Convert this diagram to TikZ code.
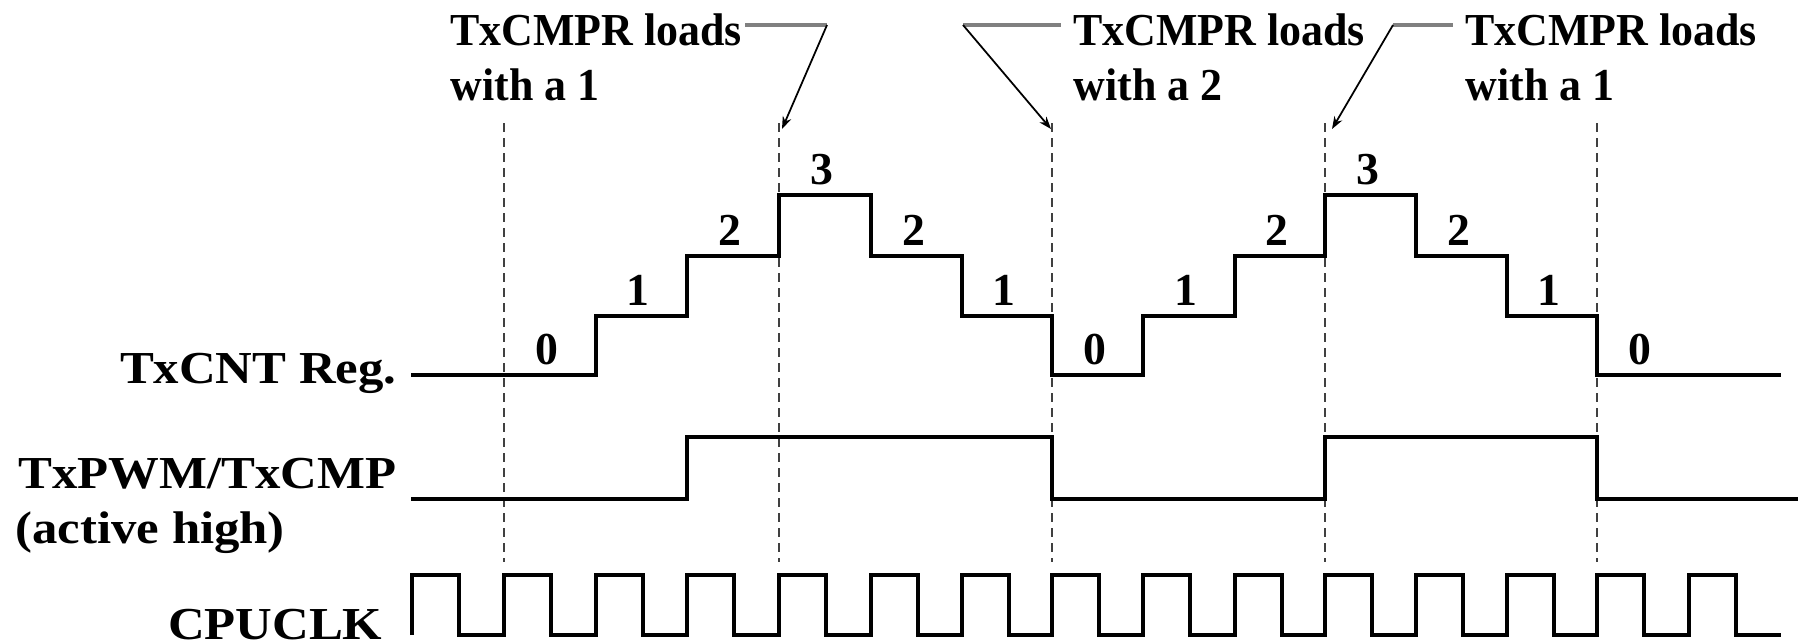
\documentclass[tikz,border=0pt]{standalone}
\usepackage{fontspec}
\setmainfont{Liberation Serif}
\newfontfamily\notefont[FakeStretch=0.96]{Liberation Serif}
\newfontfamily\sigfont[FakeStretch=1.11]{Liberation Serif}
\usetikzlibrary{arrows.meta}

\begin{document}
\begin{tikzpicture}[x=0.4pt,y=-0.4pt,
  sig/.style={line width=1.6pt, line join=miter},
  clk/.style={line width=1.4pt, line join=miter},
  guide/.style={line width=0.8pt, black!75, dash pattern=on 3.6pt off 2.4pt},
  note/.style={font=\notefont\bfseries\fontsize{18.3}{22}\selectfont, align=left, inner sep=0pt},
  siglabel/.style={font=\sigfont\bfseries\fontsize{18.3}{22}\selectfont, inner sep=0pt},
  count/.style={font=\bfseries\fontsize{18.3}{22}\selectfont, inner sep=0pt, anchor=base},
  leader/.style={line width=1.3pt, black!50},
  pointer/.style={line width=0.7pt, -{Stealth[length=5pt,width=3.6pt]}},
]
\useasboundingbox (0,0) rectangle (1810,642);

% signal names
\node[siglabel, anchor=base east] (cntlbl) at (397,383) {TxCNT Reg.};
\node[siglabel, anchor=base east] (pwmlbl) at (397,488) {TxPWM/TxCMP};
\node[siglabel, anchor=base west] (actlbl) at (15,543) {(active high)};
\node[siglabel, anchor=base east] (clklbl) at (383,639) {CPUCLK};

% vertical reference lines at the reload instants
\foreach \n/\x in {1/504, 2/779, 3/1052, 4/1325, 5/1597} {
  \coordinate (g\n top) at (\x,123);
  \coordinate (g\n bot) at (\x,562);
  \draw[guide] (g\n top) -- (g\n bot);
}

% counter register (up/down count)
\draw[sig] (411,375) -- (596,375) -- (596,316) -- (687,316) -- (687,256)
  -- (779,256) -- (779,195) -- (871,195) -- (871,256) -- (962,256)
  -- (962,316) -- (1052,316) -- (1052,375) -- (1143,375) -- (1143,316)
  -- (1235,316) -- (1235,256) -- (1325,256) -- (1325,195) -- (1416,195)
  -- (1416,256) -- (1507,256) -- (1507,316) -- (1597,316) -- (1597,375)
  -- (1781,375);

% counter values
\foreach \x/\v/\y in {547/0/375, 638/1/316, 730/2/256, 822/3/195, 914/2/256,
  1004/1/316, 1095/0/375, 1186/1/316, 1277/2/256, 1368/3/195, 1459/2/256,
  1549/1/316, 1640/0/375} {
  \node[count] at (\x,{\y-11}) {\v};
}

% compare output
\draw[sig] (411,499) -- (687,499) -- (687,437) -- (1052,437) -- (1052,499)
  -- (1325,499) -- (1325,437) -- (1597,437) -- (1597,499) -- (1798,499);

% CPU clock
\draw[clk] (412,635)
  foreach \r in {412,504,596,687,779,871,962,1052,1143,1235,1325,1416,1507,1597,1689} {
    -- (\r,635) -- (\r,575) -- ({\r+47},575) -- ({\r+47},635)
  } -- (1781,635);

% annotations (anchored on the baseline of their second line)
\node[note, anchor=base west] (n1) at (450,100) {TxCMPR loads\\with a 1};
\node[note, anchor=base west] (n2) at (1073,100) {TxCMPR loads\\with a 2};
\node[note, anchor=base west] (n3) at (1465,100) {TxCMPR loads\\with a 1};

\coordinate (b1) at (827,25);
\coordinate (b2) at (963,25);
\coordinate (b3) at (1393,25);
\coordinate (t1) at (782,129);
\coordinate (t2) at (1051,129);
\coordinate (t3) at (1332,129);

\draw[leader] ([xshift=1pt]n1.east |- b1) -- (b1);
\draw[pointer] (b1) -- (t1);
\draw[leader] ([xshift=-5pt]n2.west |- b2) -- (b2);
\draw[pointer] (b2) -- (t2);
\draw[leader] ([xshift=-5pt]n3.west |- b3) -- (b3);
\draw[pointer] (b3) -- (t3);
\end{tikzpicture}
\end{document}
